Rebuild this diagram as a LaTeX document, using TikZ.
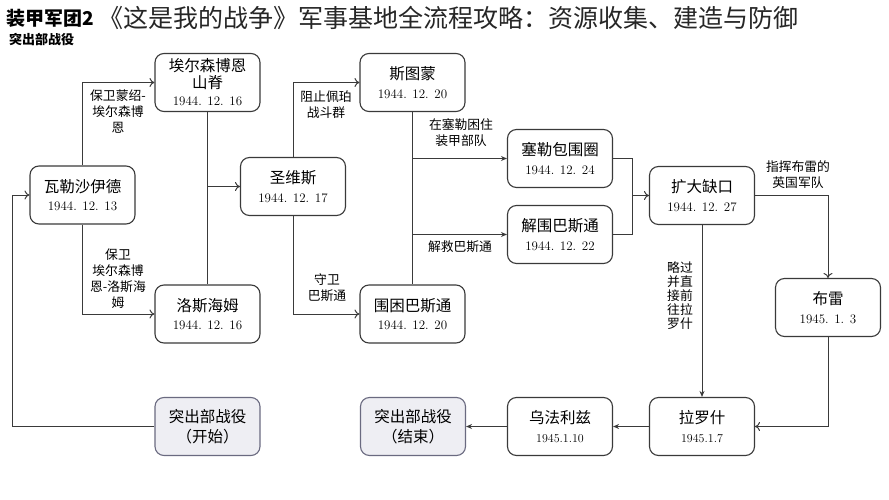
\documentclass[tikz,border=0pt]{standalone}
\usepackage{fontspec}
\newfontfamily\cjk{Noto Sans CJK SC}
\usetikzlibrary{arrows.meta}
\definecolor{lc}{HTML}{3A3A3A}
\definecolor{sfill}{HTML}{EEEEF3}
\definecolor{sdraw}{HTML}{6A6A80}
\newcommand{\nmt}[1]{{\cjk\fontsize{15.5}{19}\selectfont #1}}
\newcommand{\dtt}[1]{{\fontsize{13}{16}\selectfont #1}}
\begin{document}
\begin{tikzpicture}[x=1pt,y=-1pt,
  box/.style={draw=lc,line width=1.1pt,rounded corners=9pt,minimum width=105pt,minimum height=58pt,align=center,inner sep=2pt,fill=white,font=\fontsize{15.5}{18.5}\selectfont},
  sbox/.style={box,fill=sfill,draw=sdraw},
  lab/.style={font=\cjk\fontsize{12.8}{16}\selectfont,align=center,inner sep=0pt},
  ln/.style={draw=lc,line width=1pt},
  oarr/.style={ln,-{To[length=5pt,width=9pt]}},
  farr/.style={ln,-{Stealth[length=6pt,width=5pt]}}
]
\useasboundingbox (0,0) rectangle (889,500);
% titles
\node[anchor=west,inner sep=0pt,font=\cjk\fontsize{19}{22}\selectfont\bfseries] (t1) at (6,18) {装甲军团2};
\node[anchor=west,inner sep=0pt,font=\cjk\fontsize{25}{28}\selectfont,text=black!85] (t2) at (98,18) {《这是我的战争》军事基地全流程攻略：资源收集、建造与防御};
\node[anchor=west,inner sep=0pt,font=\cjk\fontsize{13}{15}\selectfont\bfseries] (t3) at (9,40) {突出部战役};
% nodes
\node[box] (w) at (82.5,195) {\nmt{瓦勒沙伊德}\\\dtt{1944. 12. 13}};
\node[box] (e) at (207.5,82.5) {\nmt{埃尔森博恩}\\[-2pt]\nmt{山脊}\\[-1pt]\dtt{1944. 12. 16}};
\node[box] (l) at (207.5,314) {\nmt{洛斯海姆}\\\dtt{1944. 12. 16}};
\node[box] (s) at (293,186.5) {\nmt{圣维斯}\\\dtt{1944. 12. 17}};
\node[box] (st) at (412.5,82.5) {\nmt{斯图蒙}\\\dtt{1944. 12. 20}};
\node[box] (b) at (412.5,314) {\nmt{围困巴斯通}\\\dtt{1944. 12. 20}};
\node[box] (se) at (560,158.5) {\nmt{塞勒包围圈}\\\dtt{1944. 12. 24}};
\node[box] (jw) at (560,234.5) {\nmt{解围巴斯通}\\\dtt{1944. 12. 22}};
\node[box] (k) at (702,195.5) {\nmt{扩大缺口}\\\dtt{1944. 12. 27}};
\node[box] (br) at (828,307.5) {\nmt{布雷}\\\dtt{1945. 1. 3}};
\node[box] (r) at (702,426.5) {\nmt{拉罗什}\\{\fontsize{12}{14}\selectfont 1945.1.7}};
\node[box] (u) at (560,426.5) {\nmt{乌法利兹}\\{\fontsize{12}{14}\selectfont 1945.1.10}};
\node[sbox] (en) at (413,426.5) {\nmt{突出部战役}\\[2pt]\nmt{（结束）}};
\node[sbox] (sb) at (207.5,426.5) {\nmt{突出部战役}\\[2pt]\nmt{（开始）}};
% coordinates
\coordinate (m) at (632,195.5);
\coordinate (lc1) at (12,195);
% connectors
\draw[oarr] (w.north) |- (e.west);
\draw[oarr] (w.south) |- (l.west);
\draw[ln] (e.south) -- (l.north);
\draw[oarr] (e.south |- s.west) -- (s.west);
\draw[oarr] (s.north) |- (st.west);
\draw[oarr] (s.south) |- (b.west);
\draw[ln] (st.south) -- (b.north);
\draw[farr] (st.south |- se.west) -- (se.west);
\draw[farr] (st.south |- jw.west) -- (jw.west);
\draw[ln] (se.east) -| (m);
\draw[ln] (jw.east) -| (m);
\draw[oarr] (m) -- (k.west);
\draw[oarr] (k.east) -| (br.north);
\draw[farr] (k.south) -- (r.north);
\draw[oarr] (br.south) |- (r.east);
\draw[farr] (r.west) -- (u.east);
\draw[farr] (u.west) -- (en.east);
\draw[oarr] (sb.west) -| (lc1) -- (w.west);
% labels
\node[lab] (a1) at (118,112) {保卫蒙绍-\\埃尔森博\\恩};
\node[lab] (a2) at (118,279) {保卫\\埃尔森博\\恩-洛斯海\\姆};
\node[lab] (a3) at (326,105) {阻止佩珀\\战斗群};
\node[lab] (a4) at (327,288) {守卫\\巴斯通};
\node[lab] (a5) at (461,133) {在塞勒困住\\装甲部队};
\node[lab] (a6) at (460,247) {解救巴斯通};
\node[lab] (a7) at (798,175) {指挥布雷的\\英国军队};
\node[lab,font=\cjk\fontsize{12.8}{14}\selectfont] (a8) at (680,296) {略过\\并直\\接前\\往拉\\罗什};
\end{tikzpicture}
\end{document}
